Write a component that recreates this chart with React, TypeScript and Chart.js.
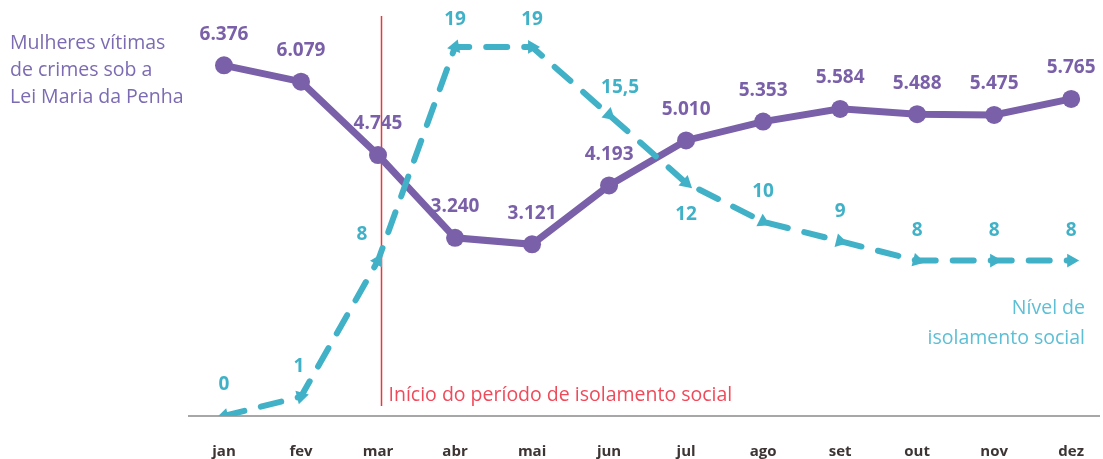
import React, { useEffect, useRef } from "react";
import { Chart, registerables } from "chart.js";

Chart.register(...registerables);

const months = ["jan", "fev", "mar", "abr", "mai", "jun", "jul", "ago", "set", "out", "nov", "dez"];
const victims = [6376, 6079, 4745, 3240, 3121, 4193, 5010, 5353, 5584, 5488, 5475, 5765];
const isolation = [0, 1, 8, 19, 19, 15.5, 12, 10, 9, 8, 8, 8];
const leftTitle = ["Mulheres vítimas", "de crimes sob a", "Lei Maria da Penha"];
const rightTitle = ["Nível de", "isolamento social"];
const markerText = "Início do período de isolamento social";
const markerIndex = 2;

// label placement offsets (px) for the isolation series
const isoLabelDx = [0, -2, -16, 0, 0, 11, 0, 0, 0, 0, 0, 0];
const isoLabelDy = [-31, -30, -26, -27, -27, -27, 32, -30, -30, -30, -30, -30];

const PURPLE = "#7a60a8";
const CYAN = "#40b1c7";
const FONT = "'Open Sans', 'Noto Sans', sans-serif";

const fmtThousands = (v: number) =>
  v >= 1000 ? Math.floor(v / 1000) + "." + String(v % 1000).padStart(3, "0") : String(v);
const fmtDecimal = (v: number) => String(v).replace(".", ",");

const decorPlugin = {
  id: "decor",
  beforeDatasetsDraw(chart: any) {
    const { ctx } = chart;
    const xs = chart.scales.x;
    const ya = chart.scales.y;
    // orient arrow markers along the incoming segment
    const pts = chart.getDatasetMeta(1).data;
    pts.forEach((p: any, i: number) => {
      const a = i === 0 ? pts[1] : pts[i - 1];
      const b = i === 0 ? pts[0] : p;
      const ang = Math.atan2(b.y - a.y, b.x - a.x) * 180 / Math.PI + 90;
      try { p.options.rotation = ang; } catch (e) {}
    });
    ctx.save();
    // baseline
    const y0 = ya.getPixelForValue(0);
    ctx.strokeStyle = "#8a8a8a";
    ctx.lineWidth = 1.5;
    ctx.beginPath();
    ctx.moveTo(188, y0);
    ctx.lineTo(1100, y0);
    ctx.stroke();
    // red vertical marker
    const mx = Math.round(xs.getPixelForValue(markerIndex)) + 3.5;
    ctx.strokeStyle = "#e8383d";
    ctx.lineWidth = 1.5;
    ctx.beginPath();
    ctx.moveTo(mx, 16);
    ctx.lineTo(mx, y0 - 10);
    ctx.stroke();
    ctx.fillStyle = "#f04a5a";
    ctx.font = `19.5px ${FONT}`;
    ctx.textAlign = "left";
    ctx.textBaseline = "middle";
    ctx.fillText(markerText, mx + 7, 395);
    // left title
    ctx.fillStyle = "#7c6bb2";
    ctx.font = `19.5px ${FONT}`;
    leftTitle.forEach((t, i) => ctx.fillText(t, 10, 43 + i * 27));
    // right title
    ctx.fillStyle = "#5cbfd5";
    ctx.textAlign = "right";
    rightTitle.forEach((t, i) => ctx.fillText(t, 1085, 308 + i * 30));
    ctx.restore();
  },
  afterDatasetsDraw(chart: any) {
    const { ctx } = chart;
    ctx.save();
    ctx.textAlign = "center";
    ctx.textBaseline = "middle";
    ctx.font = `bold 19px ${FONT}`;
    ctx.fillStyle = PURPLE;
    chart.getDatasetMeta(0).data.forEach((p: any, i: number) => {
      ctx.fillText(fmtThousands(victims[i]), p.x, p.y - 31);
    });
    ctx.fillStyle = CYAN;
    chart.getDatasetMeta(1).data.forEach((p: any, i: number) => {
      ctx.fillText(fmtDecimal(isolation[i]), p.x + isoLabelDx[i], p.y + isoLabelDy[i]);
    });
    ctx.restore();
  },
};

export default function App() {
  const ref = useRef<HTMLCanvasElement>(null);
  useEffect(() => {
    document.body.style.margin = "0";
    document.body.style.overflow = "hidden";
    const chart = new Chart(ref.current!, {
      type: "line",
      data: {
        labels: months,
        datasets: [
          {
            label: "Mulheres vítimas",
            data: victims,
            yAxisID: "y",
            borderColor: PURPLE,
            backgroundColor: PURPLE,
            borderWidth: 7,
            pointRadius: 9,
            pointBackgroundColor: PURPLE,
            pointBorderWidth: 0,
            tension: 0,
            order: 2,
          },
          {
            label: "Nível de isolamento social",
            data: isolation,
            yAxisID: "y1",
            borderColor: CYAN,
            backgroundColor: CYAN,
            borderWidth: 6,
            borderDash: [21, 17],
            borderCapStyle: "round",
            pointStyle: "triangle",
            pointRadius: 8,
            pointBorderWidth: 0,
            pointBackgroundColor: CYAN,
            pointRotation: ((c: any) => 0) as any,
            tension: 0,
            order: 1,
          },
        ],
      },
      options: {
        animation: false,
        responsive: false,
        layout: { padding: { left: 224, right: 20, top: 31, bottom: 10 } },
        plugins: { legend: { display: false }, tooltip: { enabled: false } },
        scales: {
          x: {
            offset: false,
            grid: { display: false },
            border: { display: false },
            ticks: {
              padding: 19,
              color: "#3d3434",
              font: { family: FONT, size: 15, weight: "bold" },
              maxRotation: 0,
            },
          },
          y: { display: false, min: 0, max: 7000 },
          y1: { display: false, min: 0, max: 19.82 },
        },
      },
      plugins: [decorPlugin],
    });
    return () => chart.destroy();
  }, []);
  return (
    <div style={{ width: 1103, height: 490 }}>
      <canvas ref={ref} width={1103} height={490} style={{ display: "block" }} />
    </div>
  );
}
